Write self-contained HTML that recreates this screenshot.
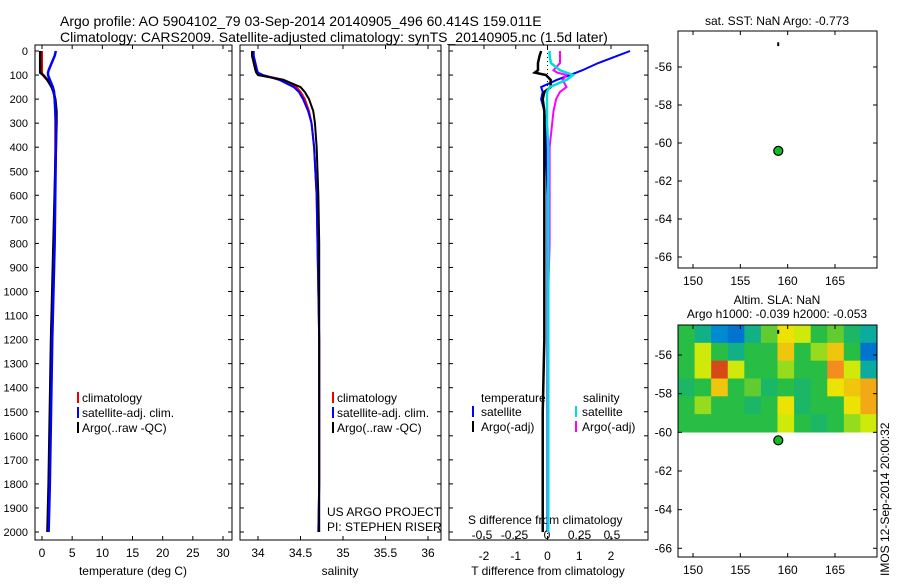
<!DOCTYPE html>
<html><head><meta charset="utf-8"><style>
body{margin:0;background:#fff}
svg{font-family:"Liberation Sans",sans-serif;}
</style></head><body>
<svg id="fig" width="900" height="580" viewBox="0 0 900 580" xmlns="http://www.w3.org/2000/svg">
<text x="60" y="26" font-size="14">Argo profile: AO 5904102_79 03-Sep-2014 20140905_496 60.414S 159.011E</text>
<text x="60" y="42" font-size="14">Climatology: CARS2009. Satellite-adjusted climatology: synTS_20140905.nc (1.5d later)</text>
<text x="777" y="25" font-size="12" text-anchor="middle">sat. SST: NaN Argo: -0.773</text>
<text x="777" y="304" font-size="12" text-anchor="middle">Altim. SLA: NaN</text>
<text x="777" y="318" font-size="12" text-anchor="middle">Argo h1000: -0.039 h2000: -0.053</text>
<text transform="translate(889,576) rotate(-90)" font-size="12">IMOS 12-Sep-2014 20:00:32</text>
<g id="g"></g>
</svg>
<script>
// ---- data ----
const depthTicks=[0,100,200,300,400,500,600,700,800,900,1000,1100,1200,1300,1400,1500,1600,1700,1800,1900,2000];
const tempTicks=[0,5,10,15,20,25,30];
const salTicks=[34,34.5,35,35.5,36];
const tdiffTicks=[-2,-1,0,1,2];
const sdiffTicks=[-0.5,-0.25,0,0.25,0.5];
const profDepth=[0,20,50,80,90,100,120,150,170,200,250,300,400,600,800,1000,1200,1500,1800,2000];
const tempClim=[0,0,0,0,0,0.1,0.8,1.6,1.9,2.1,2.2,2.2,2.2,2.1,2.0,1.8,1.6,1.4,1.2,1.0];
const tempSat=[2.3,2.1,1.6,1.1,1.0,1.0,1.3,1.8,2.0,2.1,2.2,2.3,2.3,2.2,2.1,1.9,1.7,1.5,1.3,1.1];
const tempArgo=[-0.3,-0.3,-0.3,-0.3,-0.3,0.2,0.9,1.6,1.9,2.2,2.4,2.4,2.3,2.1,1.9,1.7,1.5,1.3,1.1,0.9];
const salClim=[33.93,33.93,33.95,33.97,33.98,34.05,34.3,34.45,34.5,34.55,34.6,34.63,34.66,34.69,34.7,34.71,34.72,34.72,34.72,34.71];
const salSat=[33.95,33.95,33.97,33.99,34.0,34.06,34.25,34.42,34.48,34.53,34.59,34.63,34.66,34.69,34.7,34.71,34.72,34.72,34.72,34.71];
const salArgo=[33.93,33.93,33.95,33.97,33.98,34.0,34.3,34.5,34.55,34.6,34.65,34.67,34.69,34.71,34.72,34.72,34.72,34.72,34.72,34.72];
const tdiffSat=[2.6,2.2,1.6,1.1,0.9,0.7,0.3,-0.2,-0.15,-0.2,-0.1,-0.05,-0.05,0,0,0,0,0,0,0];
const tdiffArgo=[-0.2,-0.25,-0.3,-0.3,-0.4,-0.05,0.1,0.1,-0.1,-0.15,-0.1,-0.1,-0.1,-0.1,-0.1,-0.1,-0.1,-0.15,-0.15,-0.15];
const sdiffSat=[0.02,0.02,0.03,0.1,0.15,0.2,0.15,0.02,0,0,0,0,0.01,0.01,0.01,0.01,0.01,0.01,0.01,0.01];
const sdiffArgo=[0.1,0.1,0.1,0.05,0.08,0.15,0.12,0.15,0.1,0.07,0.05,0.04,0.02,0.02,0.02,0.01,0.01,0.01,0.01,0.01];
const lonTicks=[150,155,160,165];
const latTicks1=[-56,-58,-60,-62,-64,-66];
const argoLon=[159.01];
const argoLat=[-60.414];
const slaGrid=[
[0,-0.2,-0.6,-0.7,-0.2,0.1,0.4,0.3,0,0.1,-0.1,-0.3],
[0,0.3,0,-0.2,0,0,0.5,0,0.2,0.5,0,-0.7],
[0,0.3,0.9,0.3,0,0,0.2,0,0,0.7,0.3,-0.3],
[-0.1,0,0.5,0,0.1,-0.1,0,-0.1,0,0.4,0.5,0.6],
[0,0.2,0,0,-0.1,0,0.4,-0.1,0,0,0.4,0.6],
[0,0,0,0,0,0,0.3,0,-0.1,0,0.2,0.3]];
// ---- drawing ----
const NS="http://www.w3.org/2000/svg";const G=document.getElementById('g');
function mk(t,a,p){const e=document.createElementNS(NS,t);for(const k in a)e.setAttribute(k,a[k]);(p||G).appendChild(e);return e;}
const yD=d=>51+d*(481/2000);
function frame(x0,x1,y0,y1,name){const r=mk('rect',{x:x0,y:y0,width:x1-x0,height:y1-y0,fill:'none',stroke:'#000','stroke-width':1});

}
function txt(x,y,s,size,anchor,name){const t=mk('text',{x:x,y:y,'font-size':size,'text-anchor':anchor||'start'});t.textContent=s;

return t;}
function line(pts,col,w,name){const p=mk('polyline',{points:pts.map(q=>q.join(',')).join(' '),fill:'none',stroke:col,'stroke-width':w});

}
const panels=[[35,232],[240,441],[449,648]];
panels.forEach((p,i)=>{frame(p[0],p[1],45,540,'profile-panel-'+(i+1));
depthTicks.forEach(d=>{mk('line',{x1:p[0],x2:p[0]+4,y1:yD(d),y2:yD(d),stroke:'#000'});mk('line',{x1:p[1],x2:p[1]-4,y1:yD(d),y2:yD(d),stroke:'#000'});});});
depthTicks.forEach(d=>txt(28,yD(d)+4,String(d),11,'end','depth-tick-label'));
// panel 1
const xT=v=>42+v*(181/30);
tempTicks.forEach(v=>{mk('line',{x1:xT(v),x2:xT(v),y1:540,y2:536,stroke:'#000'});mk('line',{x1:xT(v),x2:xT(v),y1:45,y2:49,stroke:'#000'});txt(xT(v),557,String(v),12,'middle','temp-tick-label');});
txt(133,575,'temperature (deg C)',12,'middle','temp-axis-title');
line(profDepth.map((d,i)=>[xT(tempClim[i]),yD(d)]),'#e00',2,'temp-climatology-line');
line(profDepth.map((d,i)=>[xT(tempArgo[i]),yD(d)]),'#000',2.5,'temp-argo-line');
line(profDepth.map((d,i)=>[xT(tempSat[i]),yD(d)]),'#00f',2.5,'temp-satellite-line');
// panel 2
const xS=v=>258+(v-34)*85;
salTicks.forEach(v=>{mk('line',{x1:xS(v),x2:xS(v),y1:540,y2:536,stroke:'#000'});mk('line',{x1:xS(v),x2:xS(v),y1:45,y2:49,stroke:'#000'});txt(xS(v),557,String(v),12,'middle','sal-tick-label');});
txt(340,575,'salinity',12,'middle','sal-axis-title');
line(profDepth.map((d,i)=>[xS(salClim[i]),yD(d)]),'#e00',2,'sal-climatology-line');
line(profDepth.map((d,i)=>[xS(salSat[i]),yD(d)]),'#00f',2,'sal-satellite-line');
line(profDepth.map((d,i)=>[xS(salArgo[i]),yD(d)]),'#000',2,'sal-argo-line');
txt(327,516,'US ARGO PROJECT',12,'start','project-label');
txt(327,531,'PI: STEPHEN RISER',12,'start','pi-label');
// legends
[[82,0],[337,0]].forEach(l=>{const x=l[0];
[['#e00','climatology'],['#00f','satellite-adj. clim.'],['#000','Argo(..raw -QC)']].forEach((e,j)=>{
mk('rect',{x:x-5,y:392+j*15,width:2,height:11,fill:e[0]});txt(x,402+j*15,e[1],12,'start','legend-entry');});});
// panel 3
const xTd=v=>547.5+v*31.75, xSd=v=>547+v*130;
tdiffTicks.forEach(v=>{mk('line',{x1:xTd(v),x2:xTd(v),y1:540,y2:536,stroke:'#000'});mk('line',{x1:xTd(v),x2:xTd(v),y1:45,y2:49,stroke:'#000'});txt(xTd(v),560,String(v),12,'middle','tdiff-tick-label');});
sdiffTicks.forEach(v=>txt(xSd(v),539,String(v),12,'middle','sdiff-tick-label'));
mk('line',{x1:xTd(0),x2:xTd(0),y1:45,y2:540,stroke:'#000','stroke-dasharray':'1,3'});
txt(548,575,'T difference from climatology',12,'middle','tdiff-axis-title');
txt(468,524,'S difference from climatology',12,'start','sdiff-axis-title');
line(profDepth.map((d,i)=>[xTd(tdiffSat[i]),yD(d)]),'#00f',2,'tdiff-satellite-line');
line(profDepth.map((d,i)=>[xTd(tdiffArgo[i]),yD(d)]),'#000',2.5,'tdiff-argo-line');
line(profDepth.map((d,i)=>[xSd(sdiffArgo[i]),yD(d)]),'#f0f',2,'sdiff-argo-line');
line(profDepth.map((d,i)=>[xSd(sdiffSat[i]),yD(d)]),'#0dd',2.5,'sdiff-satellite-line');
txt(481,402,'temperature',12,'start','legend-temperature-header');
txt(583,402,'salinity',12,'start','legend-salinity-header');
[['#00f','#0dd','satellite'],['#000','#f0f','Argo(-adj)']].forEach((e,j)=>{
mk('rect',{x:472,y:406+j*15,width:2,height:11,fill:e[0]});txt(481,416+j*15,e[2],12,'start','legend-entry');
mk('rect',{x:575,y:406+j*15,width:2,height:11,fill:e[1]});txt(582,416+j*15,e[2],12,'start','legend-entry');});
// maps
const xL=v=>693+(v-150)*(142/15);
function mapPanel(y0,y1,yLat,name){frame(678,877,y0,y1,name);
lonTicks.forEach(v=>{mk('line',{x1:xL(v),x2:xL(v),y1:y1,y2:y1-4,stroke:'#000'});mk('line',{x1:xL(v),x2:xL(v),y1:y0,y2:y0+4,stroke:'#000'});txt(xL(v),y1+17,String(v),12,'middle','lon-tick-label');});
latTicks1.forEach(v=>{const y=yLat(v);if(y<y0||y>y1)return;mk('line',{x1:678,x2:682,y1:y,y2:y,stroke:'#000'});mk('line',{x1:877,x2:873,y1:y,y2:y,stroke:'#000'});txt(672,y+4,String(v),12,'end','lat-tick-label');});
const c=mk('circle',{cx:xL(argoLon[0]),cy:yLat(argoLat[0]),r:4.5,fill:'#1b2',stroke:'#000','stroke-width':1.2});

}
const yLat1=v=>67+(-56-v)*19, yLat2=v=>355+(-56-v)*19.33;
// heatmap
function cmap(v){const s=[[-1,[0,50,200]],[-0.5,[0,160,210]],[-0.15,[20,180,120]],[0,[40,190,70]],[0.35,[235,240,0]],[0.7,[245,140,30]],[1,[200,40,20]]];
for(let i=1;i<s.length;i++)if(v<=s[i][0]){const a=s[i-1],b=s[i],t=(v-a[0])/(b[0]-a[0]);return 'rgb('+a[1].map((q,k)=>Math.round(q+(b[1][k]-q)*t)).join(',')+')';}return 'rgb(200,40,20)';}
const cw=199/slaGrid[0].length, ch=107/slaGrid.length;
slaGrid.forEach((row,r)=>row.forEach((v,c)=>{const e=mk('rect',{x:678+c*cw,y:325+r*ch,width:cw+0.5,height:ch+0.5,fill:cmap(v)});

}));
mapPanel(31,268,yLat1,'sst-map');
mapPanel(325,557,yLat2,'sla-map');
mk('line',{x1:xL(159),x2:xL(159),y1:yLat1(-54.7),y2:yLat1(-54.9),stroke:'#000','stroke-width':2});
mk('line',{x1:xL(159),x2:xL(159),y1:yLat2(-54.7),y2:yLat2(-54.9),stroke:'#000','stroke-width':2});
</script>
</body></html>
